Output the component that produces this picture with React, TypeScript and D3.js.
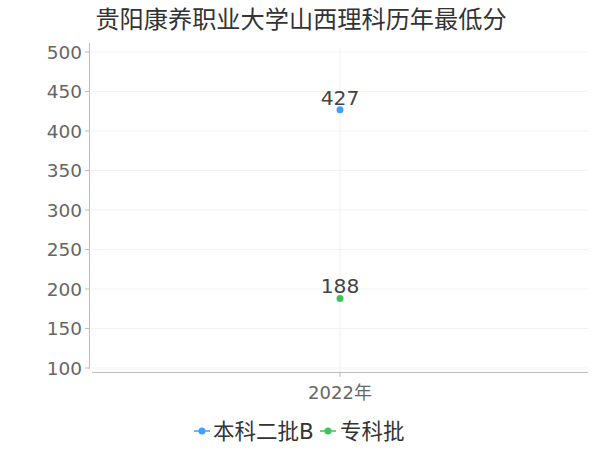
import * as d3 from "d3";
import React from "react";

const categories = ["2022年"];
const seriesNames = ["本科二批B", "专科批"];
const seriesColors = ["#3fa1ff", "#3cc35a"];
const benke2B = [427];
const zhuanke = [188];
const yTicks = [100, 150, 200, 250, 300, 350, 400, 450, 500];

const W = 600;
const H = 450;
const font = "'DejaVu Sans', 'Noto Sans CJK SC', sans-serif";

const App: React.FC = () => {
  const x = d3.scaleBand<string>().domain(categories).range([92, 588]);
  const y = d3.scaleLinear().domain([100, 500]).range([368, 52]);
  const series = [benke2B, zhuanke];
  const cx = (c: string) => (x(c) ?? 0) + x.bandwidth() / 2;

  const legendItems = [
    { name: seriesNames[0], color: seriesColors[0], x0: 194, tx: 213 },
    { name: seriesNames[1], color: seriesColors[1], x0: 320, tx: 340 },
  ];

  return (
    <svg width={W} height={H} style={{ position: "absolute", left: 0, top: 0 }} fontFamily={font}>
      <rect width={W} height={H} fill="#fff" />
      <text x={301} y={20} textAnchor="middle" dominantBaseline="central" fontSize={24.2} fill="#333">
        贵阳康养职业大学山西理科历年最低分
      </text>

      {yTicks.map((t) => (
        <line key={"g" + t} x1={92} x2={588} y1={y(t)} y2={y(t)} stroke="#f2f2f2" />
      ))}
      {categories.map((c) => (
        <line key={"v" + c} x1={cx(c)} x2={cx(c)} y1={48} y2={372} stroke="#f0f0f0" />
      ))}

      <line x1={89.5} x2={89.5} y1={43} y2={369} stroke="#bdbdbd" />
      {yTicks.map((t) => (
        <g key={"t" + t}>
          <line x1={85} x2={89.5} y1={y(t)} y2={y(t)} stroke="#bdbdbd" />
          <text x={82} y={y(t)} textAnchor="end" dominantBaseline="central" fontSize={18.5} fill="#666">
            {t}
          </text>
        </g>
      ))}

      <line x1={92} x2={588} y1={372.5} y2={372.5} stroke="#bdbdbd" />
      {categories.map((c) => (
        <g key={"x" + c}>
          <line x1={cx(c)} x2={cx(c)} y1={372.5} y2={377} stroke="#bdbdbd" />
          <text x={cx(c)} y={392} textAnchor="middle" dominantBaseline="central" fontSize={18} fill="#666">
            {c}
          </text>
        </g>
      ))}

      {series.map((vals, si) =>
        vals.map((v, i) => (
          <g key={"p" + si + i}>
            <circle cx={cx(categories[i])} cy={y(v)} r={3.5} fill={seriesColors[si]} />
            <text
              x={cx(categories[i])}
              y={y(v) - 12}
              textAnchor="middle"
              dominantBaseline="central"
              fontSize={20.3}
              fill="#444"
            >
              {v}
            </text>
          </g>
        ))
      )}

      {legendItems.map((l) => (
        <g key={l.name}>
          <line x1={l.x0} x2={l.x0 + 16} y1={431} y2={431} stroke={l.color} strokeWidth={1.5} />
          <circle cx={l.x0 + 8} cy={431} r={3.5} fill={l.color} />
          <text x={l.tx} y={431} dominantBaseline="central" fontSize={21.5} fill="#333">
            {l.name}
          </text>
        </g>
      ))}
    </svg>
  );
};

export default App;
